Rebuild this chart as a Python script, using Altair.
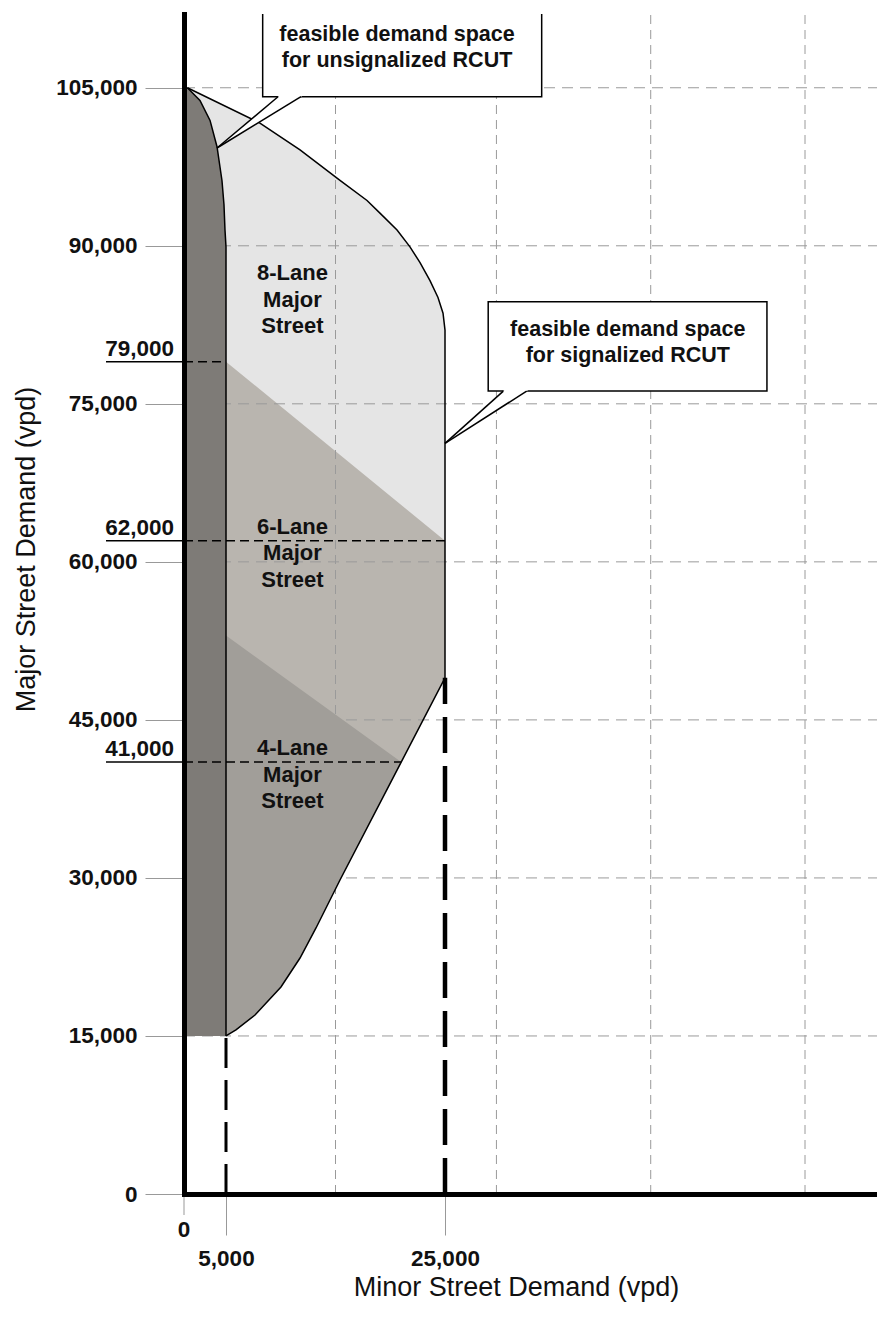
import altair as alt
import pandas as pd

# ---------------- data ----------------
Y_TICKS = [0, 15000, 30000, 45000, 60000, 75000, 90000, 105000]
X_TICKS = [5000, 25000]
X_ZERO = [0]
GRID_X = [15000, 30000, 45000, 60000]
GRID_Y = [15000, 30000, 45000, 60000, 75000, 90000, 105000]

# signalized RCUT boundary: lower curve (from 5,000 / 15,000 up to the 25,000 edge)
LOWER_X = [5000, 5910, 7650, 10020, 11760, 13220, 15410, 21000, 25000]
LOWER_Y = [15000, 15570, 16990, 19650, 22400, 25250, 29800, 41000, 49000]
# upper curve (from the 25,000 edge up to the 105,000 apex)
UPPER_X = [25000, 24820, 24360, 23630, 22720, 21800, 20620, 19060, 17880, 15410, 11760, 8100, 400]
UPPER_Y = [82000, 83600, 85100, 86700, 88400, 89900, 91500, 93100, 94300, 96200, 99100, 101650, 105000]

# 8-lane / 6-lane split and 6-lane / 4-lane split
D1_X = [25000, 5000]
D1_Y = [62000, 79000]
D2_X = [5000]
D2_Y = [53000]
FOUR_TOP_INDEX = 7  # lower boundary point at 41,000

# unsignalized RCUT strip (right edge)
STRIP_X = [5000, 5000, 4880, 4760, 4520, 3930, 3100, 1900, 400]
STRIP_Y = [15000, 89900, 91500, 93900, 96200, 99400, 101900, 103800, 105000]

# reference lines with underlined labels
REF_Y = [79000, 62000, 41000]
REF_X_END = [5000, 25000, 21000]
REF_LABELS = ["79,000", "62,000", "41,000"]

# vertical dashed lines
VDASH_X = [5000, 25000]
VDASH_TOP = [15000, 49000]

# region labels
REGION_TEXT = ["8-Lane\nMajor\nStreet", "6-Lane\nMajor\nStreet", "4-Lane\nMajor\nStreet"]
REGION_X = [11070, 11070, 11070]
REGION_Y = [86750, 62650, 41650]

# callouts (data units)
BOX_X0 = [8350, 29200]
BOX_X1 = [34400, 56300]
BOX_Y0 = [104150, 76210]
BOX_Y1 = [113500, 84700]
TIP_X = [3930, 25000]
TIP_Y = [99280, 71250]
BASE_XL = [9750, 30670]
BASE_XR = [11850, 32940]
BASE_INNER_XL = [10190, 31100]
BASE_INNER_XR = [12450, 33550]
BASE_INNER_Y = [104530, 76590]
CALLOUT_TEXT = ["feasible demand space\nfor unsignalized RCUT",
                "feasible demand space\nfor signalized RCUT"]
CALLOUT_X = [20620, 42770]
CALLOUT_Y = [109460, 81430]

# ---------------- styling ----------------
FONT = "Liberation Sans"
W, H = 693, 1180
C_LIGHT = "#e5e5e5"
C_SIX = "#b9b5af"
C_FOUR = "#a19e99"
C_STRIP = "#7e7b77"
GRID_C = "#9a9a9a"
TXT = "#111111"

XS = alt.Scale(domain=[0, 5000, 25000, 67000], range=[0, 42, 261, W], nice=False, zero=False)
YS = alt.Scale(domain=[0, 112000], nice=False, zero=False)

x_axis = alt.Axis(values=X_TICKS, format=",d", title="Minor Street Demand (vpd)", grid=False,
                  domainColor="black", domainWidth=5, domainCap="square",
                  tickColor="#999999", tickSize=41, tickWidth=1, labelPadding=12,
                  labelFont=FONT, labelFontSize=22.5, labelFontWeight="bold", labelColor=TXT,
                  labelFlush=False,
                  titleFont=FONT, titleFontSize=27, titleFontWeight="normal", titleColor=TXT,
                  titleX=332, titleY=93, titleBaseline="middle", titleAlign="center", zindex=1)
y_axis = alt.Axis(values=Y_TICKS, format=",d", title="Major Street Demand (vpd)", grid=False,
                  domainColor="black", domainWidth=5, domainCap="square",
                  tickColor="#999999", tickSize=39, tickWidth=1, labelPadding=8,
                  labelFont=FONT, labelFontSize=22.5, labelFontWeight="bold", labelColor=TXT,
                  labelFlush=False,
                  titleFont=FONT, titleFontSize=27, titleFontWeight="normal", titleColor=TXT,
                  titleX=-158, titleY=535, titleBaseline="middle", titleAlign="center", zindex=1)


def X(field, **kw):
    return alt.X(field, type="quantitative", scale=XS, axis=x_axis, **kw)


def Y(field, **kw):
    return alt.Y(field, type="quantitative", scale=YS, axis=y_axis, **kw)


def region(xs, ys, color):
    df = pd.DataFrame({"x": xs, "y": ys, "x0": 0})
    return alt.Chart(df).mark_area(orient="horizontal", color=color, strokeWidth=0).encode(
        y=Y("y"), x=X("x", stack=False), x2="x0")


sig_fill = region(LOWER_X + UPPER_X, LOWER_Y + UPPER_Y, C_LIGHT)
six_fill = region(LOWER_X + D1_X, LOWER_Y + D1_Y, C_SIX)
four_fill = region(LOWER_X[:FOUR_TOP_INDEX + 1] + D2_X, LOWER_Y[:FOUR_TOP_INDEX + 1] + D2_Y, C_FOUR)
strip_fill = region(STRIP_X, STRIP_Y, C_STRIP)

grid_h = alt.Chart(pd.DataFrame({"y": GRID_Y, "x0": 0, "x1": 67000})).mark_rule(
    color=GRID_C, strokeWidth=1, strokeDash=[11, 7]).encode(y=Y("y"), x=X("x0"), x2="x1")
grid_v = alt.Chart(pd.DataFrame({"x": GRID_X, "y0": 0, "y1": 112000})).mark_rule(
    color=GRID_C, strokeWidth=1, strokeDash=[9, 6]).encode(x=X("x"), y=Y("y0"), y2="y1")

outer_x = LOWER_X + UPPER_X
outer_y = LOWER_Y + UPPER_Y
outline_df = pd.DataFrame({
    "grp": ["outer"] * len(outer_x) + ["strip"] * len(STRIP_X),
    "idx": list(range(len(outer_x))) + list(range(len(STRIP_X))),
    "x": outer_x + STRIP_X,
    "y": outer_y + STRIP_Y,
})
outlines = alt.Chart(outline_df).mark_line(color="black", strokeWidth=1.5).encode(
    x=X("x"), y=Y("y"), detail="grp:N", order="idx:Q")

ref_df = pd.DataFrame({"y": REF_Y, "x0": 0, "x1": REF_X_END, "label": REF_LABELS})
ref_dash = alt.Chart(ref_df).mark_rule(color="black", strokeWidth=1.5, strokeDash=[9, 5]).encode(
    y=Y("y"), x=X("x0"), x2="x1")
ref_under = alt.Chart(ref_df).mark_rule(color="black", strokeWidth=1.5).encode(
    y=Y("y"), x=alt.value(-78), x2=alt.value(0))
ref_text = alt.Chart(ref_df).mark_text(align="right", baseline="alphabetic", dy=-6, font=FONT,
                                        fontSize=22.5, fontWeight="bold", color=TXT).encode(
    y=Y("y"), x=alt.value(-10), text="label:N")

vd_df = pd.DataFrame({"x": VDASH_X, "y0": 0, "y1": VDASH_TOP})
vdash5 = alt.Chart(vd_df.iloc[[0]]).mark_rule(color="black", strokeWidth=3, strokeDash=[30, 12]).encode(
    x=X("x"), y=Y("y0"), y2="y1")
vdash25 = alt.Chart(vd_df.iloc[[1]]).mark_rule(color="black", strokeWidth=4.5, strokeDash=[36, 13]).encode(
    x=X("x"), y=Y("y0"), y2="y1")

zero_df = pd.DataFrame({"x": X_ZERO, "label": ["0"]})
zero_tick = alt.Chart(zero_df).mark_rule(color="#999999", strokeWidth=1).encode(
    x=X("x"), y=alt.value(H), y2=alt.value(H + 21))
zero_text = alt.Chart(zero_df).mark_text(baseline="middle", align="center", font=FONT, fontSize=22.5,
                                          fontWeight="bold", color=TXT).encode(
    x=X("x"), y=alt.value(H + 36), text="label:N")

box_df = pd.DataFrame({"x0": BOX_X0, "x1": BOX_X1, "y0": BOX_Y0, "y1": BOX_Y1})
boxes = alt.Chart(box_df).mark_rect(fill="white", stroke="black", strokeWidth=1.5, clip=True).encode(
    x=X("x0"), x2="x1", y=Y("y0"), y2="y1")

tri_rows = []
for i in range(2):
    tri_rows.append({"id": i, "y": TIP_Y[i], "xa": TIP_X[i], "xb": TIP_X[i]})
    tri_rows.append({"id": i, "y": BASE_INNER_Y[i], "xa": BASE_INNER_XR[i], "xb": BASE_INNER_XL[i]})
tri = alt.Chart(pd.DataFrame(tri_rows)).mark_area(orient="horizontal", color="white", strokeWidth=0).encode(
    y=Y("y"), x=X("xa", stack=False), x2="xb", detail="id:N")

side_rows = []
for i in range(2):
    for bx in (BASE_XL[i], BASE_XR[i]):
        side_rows.append({"x": TIP_X[i], "y": TIP_Y[i], "x2": bx, "y2": BOX_Y0[i]})
sides = alt.Chart(pd.DataFrame(side_rows)).mark_rule(color="black", strokeWidth=1.5).encode(
    x=X("x"), y=Y("y"), x2="x2", y2="y2")

callout_text = alt.Chart(pd.DataFrame({"x": CALLOUT_X, "y": CALLOUT_Y, "t": CALLOUT_TEXT})).mark_text(
    align="center", baseline="alphabetic", lineBreak="\n", lineHeight=26, font=FONT, fontSize=21.5,
    fontWeight="bold", color=TXT).encode(x=X("x"), y=Y("y"), text="t:N")

region_text = alt.Chart(pd.DataFrame({"x": REGION_X, "y": REGION_Y, "t": REGION_TEXT})).mark_text(
    align="center", baseline="alphabetic", lineBreak="\n", lineHeight=26.5, font=FONT, fontSize=22,
    fontWeight="bold", color=TXT).encode(x=X("x"), y=Y("y"), text="t:N")

chart = alt.layer(
    sig_fill, six_fill, grid_h, grid_v, four_fill, strip_fill,
    outlines, ref_dash, ref_under, ref_text, vdash5, vdash25,
    zero_tick, zero_text, boxes, tri, sides, callout_text, region_text,
).properties(
    width=W, height=H,
    padding={"left": 176, "top": 6, "right": 0, "bottom": 110},
    autosize=alt.AutoSizeParams(type="none"),
).configure_view(stroke=None)

chart.save("out.html", embed_options={"renderer": "svg", "actions": False})
